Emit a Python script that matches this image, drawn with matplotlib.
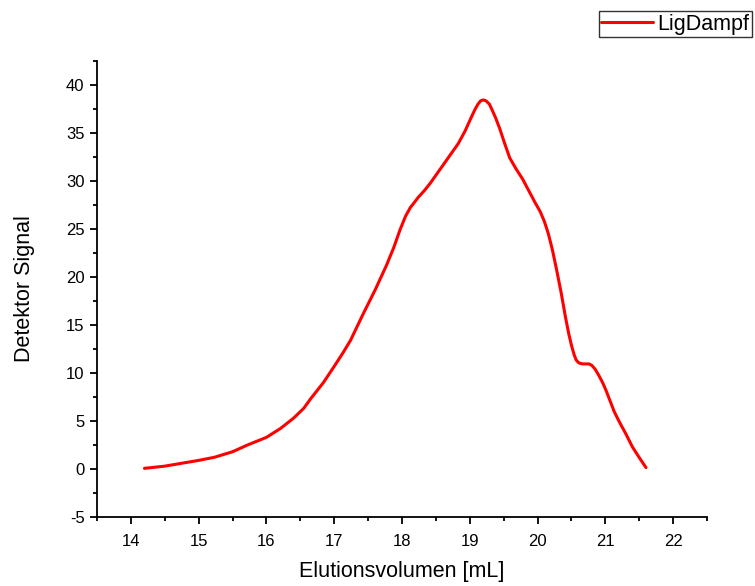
import numpy as np
import matplotlib
matplotlib.use('Agg')
import matplotlib.pyplot as plt
from matplotlib.ticker import MultipleLocator, FuncFormatter

plt.rcParams['font.family'] = ['Liberation Sans', 'DejaVu Sans']

# values
vol = [14.2, 14.5, 14.74, 15.0, 15.23, 15.5, 15.72, 16.0, 16.21, 16.4, 16.55, 16.65,
       16.84, 17.0, 17.12, 17.24, 17.43, 17.60, 17.77, 17.88, 17.97, 18.05, 18.12,
       18.24, 18.33, 18.42, 18.52, 18.61, 18.72, 18.83, 18.93, 19.02, 19.08, 19.12,
       19.16, 19.2, 19.24, 19.29, 19.33, 19.38, 19.44, 19.52, 19.59, 19.68, 19.78,
       19.87, 19.96, 20.04, 20.1, 20.16, 20.22, 20.28, 20.35, 20.41, 20.46, 20.5,
       20.54, 20.57, 20.61, 20.66, 20.71, 20.76, 20.8, 20.85, 20.9, 20.96, 21.01,
       21.07, 21.13, 21.2, 21.3, 21.4, 21.5, 21.6]
signal = [0.07, 0.3, 0.59, 0.9, 1.22, 1.8, 2.5, 3.3, 4.24, 5.3, 6.32, 7.3,
          9.0, 10.7, 12.0, 13.4, 16.2, 18.6, 21.2, 23.1, 24.9, 26.3, 27.2,
          28.3, 29.0, 29.8, 30.8, 31.7, 32.8, 33.9, 35.2, 36.6, 37.5, 38.0,
          38.35, 38.45, 38.35, 38.0, 37.4, 36.6, 35.5, 33.8, 32.4, 31.3, 30.2,
          29.0, 27.8, 26.8, 25.8, 24.5, 22.8, 20.8, 18.3, 15.9, 14.1, 12.9,
          11.9, 11.35, 11.05, 10.95, 10.95, 10.95, 10.8, 10.4, 9.8, 9.0, 8.2,
          7.1, 6.0, 5.0, 3.7, 2.3, 1.2, 0.15]
series_name = 'LigDampf'

fig = plt.figure(figsize=(7.55, 5.86), dpi=100)
ax = fig.add_axes([0.1285, 0.1177, 0.8079, 0.7782])

line, = ax.plot(vol, signal, color='red', lw=2.2, solid_joinstyle='round', solid_capstyle='round')

ax.set_xlim(13.5, 22.5)
ax.set_ylim(-5, 42.5)
ax.xaxis.set_major_locator(MultipleLocator(1))
ax.xaxis.set_minor_locator(MultipleLocator(0.5))
ax.yaxis.set_major_locator(MultipleLocator(5))
ax.yaxis.set_minor_locator(MultipleLocator(2.5))
ax.yaxis.set_major_formatter(FuncFormatter(lambda v, p: '%d' % v))
ax.spines['top'].set_visible(False)
ax.spines['right'].set_visible(False)
for s in ('left', 'bottom'):
    ax.spines[s].set_linewidth(1.3)
ax.tick_params(which='major', direction='out', length=5, width=1.3, labelsize=12)
ax.tick_params(axis='x', which='major', pad=7)
ax.tick_params(axis='y', which='major', pad=4)
ax.tick_params(which='minor', direction='out', length=3, width=1.3)

ax.set_xlabel('Elutionsvolumen [mL]', fontsize=15.5, labelpad=9)
ax.set_ylabel('Detektor Signal', fontsize=15.5, labelpad=22)

leg = fig.legend([line], [series_name], loc='upper right', bbox_to_anchor=(0.996, 0.981),
                 fontsize=15.5, frameon=True, fancybox=False, handlelength=2.4,
                 handletextpad=0.2, borderpad=0.12, borderaxespad=0.0)
leg.get_frame().set_edgecolor('black')
leg.get_frame().set_linewidth(1.0)

fig.savefig('out.png', dpi=100)
